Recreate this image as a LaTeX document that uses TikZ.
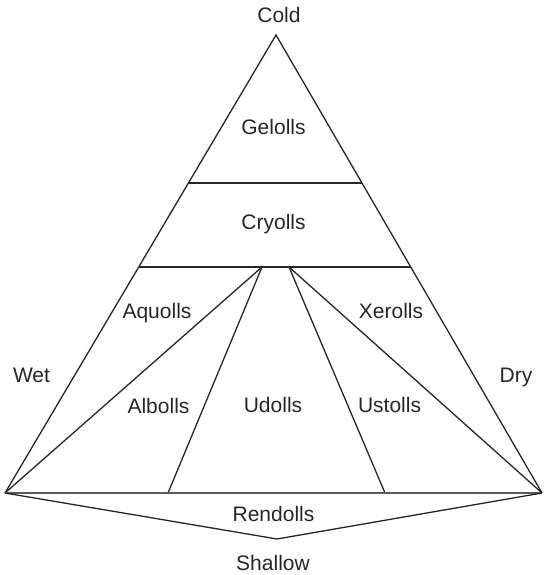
\documentclass[tikz,border=0pt]{standalone}
\usepackage{fontspec}
\setmainfont{Liberation Sans}
\usetikzlibrary{calc}
\begin{document}
\begin{tikzpicture}[x=1pt,y=-1pt,
  edge/.style={line width=1.3pt, draw=black!85, line join=miter},
  baseedge/.style={line width=1.8pt, draw=black!65},
  lbl/.style={font=\fontsize{21}{24}\selectfont, text=black!85, inner sep=0pt, anchor=base}]
\useasboundingbox (0,0) rectangle (543,575);

% outer triangle
\coordinate (top) at (276,35);
\coordinate (bl) at (5,493);
\coordinate (br) at (542,493);
% horizontal bands
\coordinate (g1) at ($(top)!{148/458}!(bl)$);
\coordinate (g2) at ($(top)!{148/458}!(br)$);
\coordinate (c1) at ($(top)!{232/458}!(bl)$);
\coordinate (c2) at ($(top)!{232/458}!(br)$);
% fan of suborders
\coordinate (il) at (262,267);
\coordinate (ir) at (289,267);
\coordinate (b1) at (168,493);
\coordinate (b2) at (385,493);
% shallow wedge
\coordinate (rv) at (277,539);

\draw[edge] (bl) -- (top) -- (br);
\draw[edge] (g1) -- (g2);
\draw[edge] (c1) -- (c2);
\draw[edge] (il) -- (bl);
\draw[edge] (il) -- (b1);
\draw[edge] (ir) -- (b2);
\draw[edge] (ir) -- (br);
\draw[baseedge] (bl) -- (br);
\draw[edge] (bl) -- (rv) -- (br);

\node[lbl] (cold) at (279,23) {Cold};
\node[lbl] (gelolls) at (273.5,134) {Gelolls};
\node[lbl] (cryolls) at (273.5,229) {Cryolls};
\node[lbl] (aquolls) at (157,318) {Aquolls};
\node[lbl] (xerolls) at (391,318) {Xerolls};
\node[lbl] (wet) at (31.5,382) {Wet};
\node[lbl] (dry) at (516,382) {Dry};
\node[lbl] (albolls) at (158.5,413) {Albolls};
\node[lbl] (udolls) at (273,412) {Udolls};
\node[lbl] (ustolls) at (389.5,412) {Ustolls};
\node[lbl] (rendolls) at (273.5,521) {Rendolls};
\node[lbl] (shallow) at (273,570) {Shallow};
\end{tikzpicture}
\end{document}
